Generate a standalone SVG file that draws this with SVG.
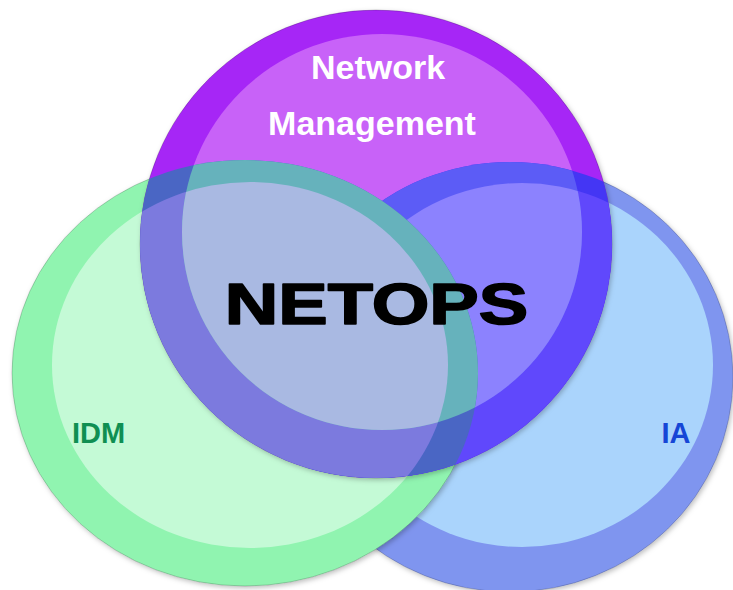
<svg xmlns="http://www.w3.org/2000/svg" xmlns:xlink="http://www.w3.org/1999/xlink" width="733" height="590" viewBox="0 0 733 590">
<style>
  .lbl { font-family: "Liberation Sans", Arial, sans-serif; font-weight: bold; text-anchor: middle; }
  .edge { stroke: #000; stroke-opacity: 0.18; stroke-width: 1; }
</style>
<defs>
  <ellipse id="pO" cx="376" cy="244" rx="236" ry="234"/>
  <ellipse id="pI" cx="382" cy="232" rx="200" ry="198"/>
  <ellipse id="gO" cx="245" cy="373" rx="233" ry="213"/>
  <ellipse id="gI" cx="250" cy="365" rx="198" ry="183"/>
  <ellipse id="bO" cx="510" cy="377" rx="223" ry="215"/>
  <ellipse id="bI" cx="522" cy="365" rx="191" ry="182"/>
  <clipPath id="cpO"><use href="#pO"/></clipPath>
  <clipPath id="cpI"><use href="#pI"/></clipPath>
  <filter id="sh" x="-10%" y="-10%" width="120%" height="120%">
    <feDropShadow dx="1.5" dy="2" stdDeviation="2.5" flood-color="#000" flood-opacity="0.25"/>
  </filter>
</defs>
<rect width="733" height="590" fill="#ffffff"/>

<g id="ia">
  <use href="#bO" fill="#7f95ef" class="edge" filter="url(#sh)"/>
  <use href="#bI" fill="#aad4fc"/>
  <text class="lbl" x="676" y="443" font-size="29" fill="#1646d6">IA</text>
</g>

<g id="idm">
  <use href="#gO" fill="#90f4b0" class="edge" filter="url(#sh)"/>
  <use href="#gI" fill="#c4fad6"/>
  <text class="lbl" x="98.5" y="443" font-size="29" fill="#0f8f52">IDM</text>
</g>

<g id="network-management">
  <use href="#pO" fill="#a628f6" class="edge" filter="url(#sh)"/>
  <use href="#pI" fill="#c862f8"/>
  <!-- purple over blue -->
  <g clip-path="url(#cpO)">
    <use href="#bO" fill="#4436f4"/>
    <use href="#bI" fill="#6048fc"/>
  </g>
  <g clip-path="url(#cpI)">
    <use href="#bO" fill="#5c5cf6"/>
    <use href="#bI" fill="#8c82fe"/>
  </g>
  <!-- purple over green -->
  <g clip-path="url(#cpO)">
    <use href="#gO" fill="#4a66c4"/>
    <use href="#gI" fill="#7c7ade"/>
  </g>
  <g clip-path="url(#cpI)">
    <use href="#gO" fill="#66b2bc"/>
    <use href="#gI" fill="#a9b9e2"/>
  </g>
  <text class="lbl" x="378" y="79" font-size="34" fill="#ffffff">Network</text>
  <text class="lbl" x="372" y="135" font-size="34" fill="#ffffff">Management</text>
</g>

<g id="netops">
  <text class="lbl" transform="translate(376.5,323.5) scale(1.3,1)" x="0" y="0" font-size="57" fill="#000000" stroke="#000000" stroke-width="1.6" stroke-linejoin="round">NETOPS</text>
</g>

<g id="connectors"/>
</svg>
